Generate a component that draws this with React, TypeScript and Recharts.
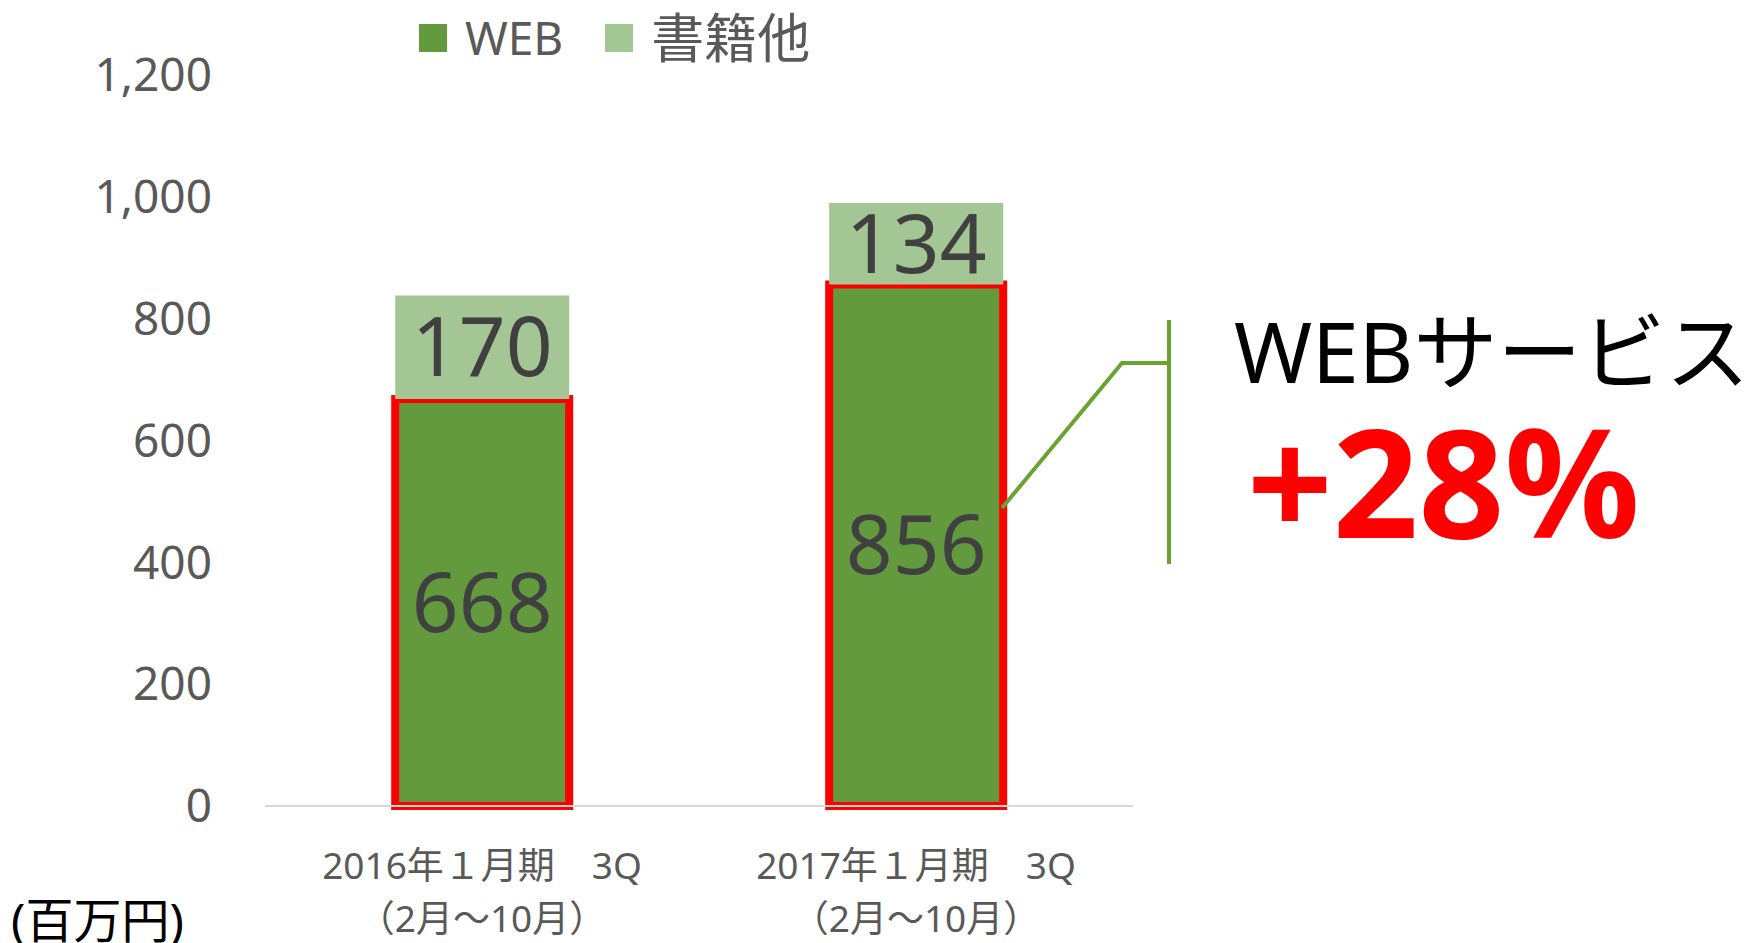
import { BarChart, Bar, XAxis, YAxis, LabelList } from "recharts";

const categories = ["2016年１月期　3Q", "2017年１月期　3Q"];
const periods = ["（2月～10月）", "（2月～10月）"];
const webValues = [668, 856];
const bookValues = [170, 134];
const yTicks = [0, 200, 400, 600, 800, 1000, 1200];

const data = categories.map((name, i) => ({
  name,
  period: periods[i],
  web: webValues[i],
  books: bookValues[i],
}));

const FONT = "'Noto Sans', 'Noto Sans CJK JP', sans-serif";
const WEB_GREEN = "#629A3D";
const BOOK_GREEN = "#A4C594";

function CategoryTick(props: any) {
  const { x, y, payload, index } = props;
  return (
    <text x={x} y={y} textAnchor="middle" fill="#595959" fontSize={37} fontFamily={FONT}>
      <tspan x={x} dy={65}>{payload.value}</tspan>
      <tspan x={x} dy={53}>{periods[index]}</tspan>
    </text>
  );
}

function LegendBox() {
  const items = [
    { label: "WEB", color: WEB_GREEN, size: 46 },
    { label: "書籍他", color: BOOK_GREEN, size: 53 },
  ];
  return (
    <div style={{ position: "absolute", left: 419, top: 6, display: "flex", alignItems: "center" }}>
      {items.map((it) => (
        <div key={it.label} style={{ display: "flex", alignItems: "center", marginRight: 42 }}>
          <div style={{ width: 28, height: 28, background: it.color, marginRight: 18 }} />
          <span style={{ fontSize: it.size, color: "#595959", fontFamily: FONT, lineHeight: 1.2 }}>{it.label}</span>
        </div>
      ))}
    </div>
  );
}

export default function App() {
  return (
    <div style={{ position: "absolute", left: 0, top: 0, width: 1752, height: 943, overflow: "hidden", background: "#fff" }}>
      <BarChart
        width={1752}
        height={943}
        data={data}
        margin={{ top: 75, right: 619, left: 0, bottom: 107 }}
        barCategoryGap="30%"
      >
        <XAxis
          dataKey="name"
          height={30}
          axisLine={{ stroke: "#D9D9D9", strokeWidth: 2 }}
          tickLine={false}
          tick={<CategoryTick />}
          interval={0}
        />
        <YAxis
          width={265}
          domain={[0, 1200]}
          ticks={yTicks}
          axisLine={false}
          tickLine={false}
          tickSize={0}
          tickMargin={53}
          tickFormatter={(v: number) => v.toLocaleString("en-US")}
          tick={{ fill: "#595959", fontSize: 46, fontFamily: FONT }}
        />
        <Bar dataKey="web" stackId="a" fill={WEB_GREEN} stroke="#FF0000" strokeWidth={8} isAnimationActive={false}>
          <LabelList dataKey="web" position="center" fill="#404040" fontSize={82} fontFamily={FONT} />
        </Bar>
        <Bar dataKey="books" stackId="a" fill={BOOK_GREEN} isAnimationActive={false}>
          <LabelList dataKey="books" position="center" fill="#404040" fontSize={82} fontFamily={FONT} />
        </Bar>
      </BarChart>
      <LegendBox />
      <svg width={1752} height={943} style={{ position: "absolute", left: 0, top: 0, pointerEvents: "none" }}>
        <polyline points="1002,508 1122,363 1169,363" fill="none" stroke="#6AA32F" strokeWidth={4} />
        <line x1={1169} y1={320} x2={1169} y2={564} stroke="#6AA32F" strokeWidth={4} />
        <text x={1234} y={383} fontSize={84} fill="#000" fontFamily={FONT}>WEBサービス</text>
        <text x={1247} y={538} fontSize={150} fontWeight="bold" fill="#FF0000" fontFamily={FONT}>+28%</text>
        <text x={11} y={938} fontSize={48} fill="#000" fontFamily={FONT}>(百万円)</text>
      </svg>
    </div>
  );
}
